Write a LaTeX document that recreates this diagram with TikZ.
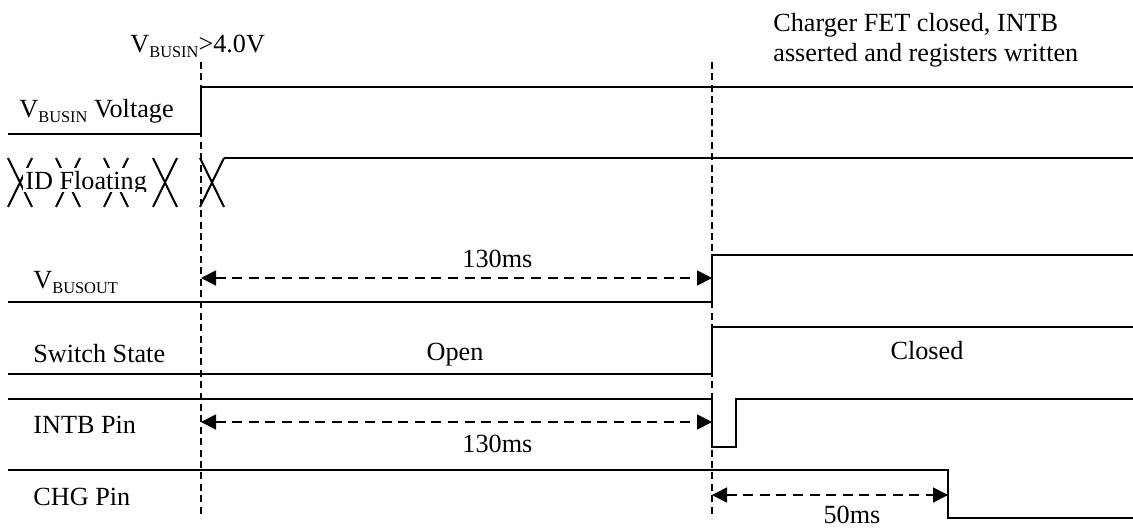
\documentclass[tikz,border=0pt]{standalone}
\usepackage{fontspec}
\setmainfont{Liberation Serif}
\usetikzlibrary{arrows.meta}
\newcommand{\vsub}[1]{\raisebox{-2.5pt}{\fontsize{8.2}{8.2}\selectfont #1}}
\tikzset{
  signal/.style={line width=1pt, line join=miter},
  marker/.style={line width=0.7pt, dash pattern=on 3.5pt off 2.2pt},
  span/.style={{Triangle[length=7.5pt,width=7.5pt]}-{Triangle[length=7.5pt,width=7.5pt]}, line width=0.9pt, dash pattern=on 5pt off 3.3pt},
  lbl/.style={font=\fontsize{13.1}{15.7}\selectfont, inner sep=0pt, anchor=base west},
  val/.style={font=\fontsize{13.1}{15.7}\selectfont, inner sep=0pt, anchor=base}
}
\begin{document}
\begin{tikzpicture}[x=0.5pt, y=-0.5pt]
  \useasboundingbox (0,0) rectangle (1133,529);
  % event times
  \draw[marker] (201,62) -- (201,518);
  \draw[marker] (712,62) -- (712,518);
  \node[lbl] (thr) at (130,53) {V\vsub{BUSIN}>4.0V};
  \node[lbl] (note1) at (773,32) {Charger FET closed, INTB};
  \node[lbl] (note2) at (773,62) {asserted and registers written};

  % VBUSIN
  \node[lbl] (busin) at (19,118) {V\vsub{BUSIN} Voltage};
  \draw[signal] (8,134) -- (201,134) -- (201,87) -- (1133,87);

  % ID pin
  \foreach \c in {20,68,116,165,212}
    \draw[signal] (\c-12,158) -- (\c+12,207) (\c-12,207) -- (\c+12,158);
  \draw[signal] (224,158) -- (1133,158);
  \begin{scope}
    \clip (23,168) rectangle (150,192);
    \fill[white] (23,168) rectangle (150,192);
    \node[lbl] (idpin) at (25,190) {ID Floating};
  \end{scope}

  % VBUSOUT
  \node[lbl] (busout) at (33,288) {V\vsub{BUSOUT}};
  \draw[signal] (8,302) -- (712,302) -- (712,255) -- (1133,255);
  \coordinate (o1) at (201,278);
  \coordinate (o2) at (712,278);
  \draw[span] (o1) -- (o2) node[val, pos=0.58, yshift=5.5pt] (dly1) {130ms};

  % switch
  \node[lbl] (sw) at (33,362) {Switch State};
  \draw[signal] (8,374) -- (712,374) -- (712,327) -- (1133,327);
  \node[val] (open) at (455,360) {Open};
  \node[val] (closed) at (927,359) {Closed};

  % INTB
  \node[lbl] (intb) at (33,433) {INTB Pin};
  \draw[signal] (8,399) -- (712,399) -- (712,447) -- (736,447) -- (736,399) -- (1133,399);
  \coordinate (i1) at (201,422);
  \coordinate (i2) at (712,422);
  \draw[span] (i1) -- (i2) node[val, pos=0.58, yshift=-15pt] (dly2) {130ms};

  % CHG
  \node[lbl] (chg) at (33,505) {CHG Pin};
  \draw[signal] (8,470) -- (948,470) -- (948,518) -- (1133,518);
  \coordinate (c1) at (712,495);
  \coordinate (c2) at (948,495);
  \draw[span] (c1) -- (c2) node[val, pos=0.593, yshift=-14pt] (dly3) {50ms};
\end{tikzpicture}
\end{document}
